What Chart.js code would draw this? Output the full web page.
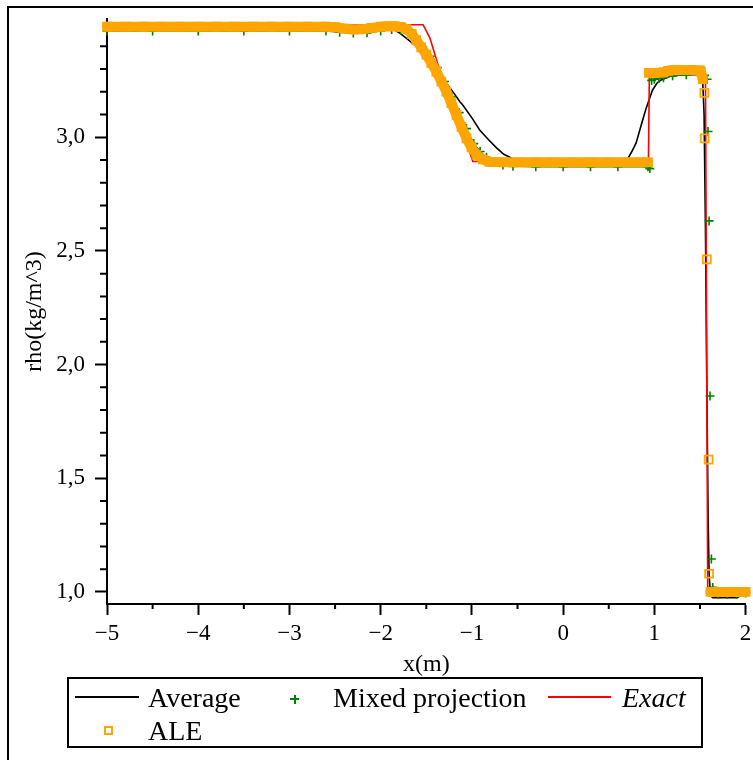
<!DOCTYPE html>
<html>
<head>
<meta charset="utf-8">
<script src="https://cdn.jsdelivr.net/npm/chart.js@4.4.0/dist/chart.umd.min.js"></script>
<style>
html, body { margin: 0; padding: 0; background: #fff; overflow: hidden; }
#wrap { position: relative; width: 753px; height: 760px; overflow: hidden; }
#frame { position: absolute; left: 7px; top: 6px; width: 800px; height: 800px; border: 2px solid #000; box-sizing: border-box; }
#chart { position: absolute; left: 0; top: 0; }
#legend { position: absolute; left: 67px; top: 677px; width: 636px; height: 71px; border: 2px solid #000; box-sizing: border-box;
  font-family: 'Liberation Serif', 'Times New Roman', serif; font-size: 28px; line-height: 27px; color: #000; }
#legend .t { position: absolute; white-space: nowrap; }
#legend .ln { position: absolute; height: 2px; }
</style>
</head>
<body>
<div id="wrap">
  <div id="frame"></div>
  <canvas id="chart" width="753" height="760"></canvas>
  <div id="legend">
    <div class="ln" style="left:6px;top:17px;width:64px;background:#000"></div>
    <div class="t" style="left:79px;top:5px">Average</div>
    <div class="ln" style="left:221px;top:19px;width:9px;background:#008000"></div>
    <div class="ln" style="left:224.5px;top:15.5px;width:2px;height:9px;background:#008000"></div>
    <div class="t" style="left:264px;top:5px">Mixed projection</div>
    <div class="ln" style="left:479px;top:17px;width:63px;background:#ff0000"></div>
    <div class="t" style="left:553px;top:5px;font-style:italic">Exact</div>
    <div style="position:absolute;left:34.5px;top:46.5px;width:9px;height:9px;border:2px solid #ffa500;box-sizing:border-box"></div>
    <div class="t" style="left:79px;top:38px">ALE</div>
  </div>
</div>
<script>
// Axes
const xTicks = [-5, -4, -3, -2, -1, 0, 1, 2];
const xMinor = [-4.5, -3.5, -2.5, -1.5, -0.5, 0.5, 1.5];
const yTicks = [1.0, 1.5, 2.0, 2.5, 3.0];
const yMinor = [1.1, 1.2, 1.3, 1.4, 1.6, 1.7, 1.8, 1.9, 2.1, 2.2, 2.3, 2.4, 2.6, 2.7, 2.8, 2.9, 3.1, 3.2, 3.3, 3.4];

// Average
const avgX = [-5, -2.6, -2.45, -2.3, -2.15, -2.0, -1.88, -1.79, -1.72, -1.61, -1.575, -1.5, -1.4, -1.3, -1.2, -1.13,
  -1.1, -1.0, -0.915, -0.82, -0.73, -0.65, -0.59, -0.55, -0.45, -0.3, 0.6, 0.66, 0.707, 0.75, 0.8, 0.856, 0.91, 0.98,
  1.03, 1.075, 1.165, 1.3, 1.45, 1.5, 1.53, 1.545, 1.56, 1.575, 1.59, 1.6, 1.615, 1.64, 1.91, 1.96, 2.0];
const avgY = [3.484, 3.484, 3.48, 3.474, 3.474, 3.48, 3.478, 3.458, 3.436, 3.40, 3.385, 3.35, 3.30, 3.25, 3.195, 3.155,
  3.142, 3.085, 3.032, 2.99, 2.953, 2.925, 2.913, 2.904, 2.895, 2.892, 2.892, 2.896, 2.905, 2.935, 2.975, 3.054, 3.128, 3.208,
  3.238, 3.252, 3.267, 3.275, 3.275, 3.27, 3.245, 3.1, 2.6, 1.9, 1.3, 1.08, 0.985, 0.975, 0.975, 0.99, 1.0];

// Mixed projection
const mixX = [-5.0, -4.5, -4.0, -3.5, -3.0, -2.6, -2.45, -2.3, -2.15, -2.0, -1.88, -1.78, -1.7, -1.62, -1.54, -1.46,
  -1.38, -1.3, -1.22, -1.14, -1.06, -0.98, -0.91, -0.84, -0.76, -0.66, -0.55, -0.3, 0.0, 0.3, 0.6, 0.93, 0.95, 0.97,
  1.0, 1.05, 1.1, 1.2, 1.35, 1.5, 1.55, 1.578, 1.588, 1.6, 1.61, 1.625, 1.64, 1.7, 1.8, 1.9, 2.0];
const mixY = [3.467, 3.467, 3.467, 3.467, 3.467, 3.467, 3.462, 3.458, 3.459, 3.467, 3.474, 3.47, 3.456, 3.432, 3.398, 3.356,
  3.306, 3.245, 3.178, 3.108, 3.038, 2.972, 2.937, 2.912, 2.893, 2.878, 2.872, 2.87, 2.87, 2.87, 2.87, 2.87, 2.862, 3.25,
  3.255, 3.258, 3.262, 3.27, 3.275, 3.278, 3.272, 3.255, 3.025, 2.632, 1.862, 1.145, 1.02, 0.99, 0.99, 0.99, 0.995];

// Exact
const exactX = [-5, -1.535, -1.46, -1.32, -1.19, -1.06, -0.99, 0.935, 0.945, 1.56, 1.585, 2.0];
const exactY = [3.495, 3.495, 3.436, 3.25, 3.10, 2.975, 2.893, 2.893, 3.28, 3.28, 1.0, 1.0];

// ALE
const aleX = [-5.0, -4.8, -4.6, -4.4, -4.2, -4.0, -3.8, -3.6, -3.4, -3.2, -3.0, -2.8, -2.6, -2.5, -2.4, -2.3, -2.2, -2.1,
  -2.0, -1.92, -1.85, -1.78, -1.72, -1.66, -1.61, -1.555, -1.5, -1.445, -1.39, -1.335, -1.28, -1.225, -1.17, -1.115,
  -1.06, -1.005, -0.95, -0.88, -0.81, -0.7, -0.5, -0.3, -0.1, 0.1, 0.3, 0.5, 0.7, 0.85, 0.93, 0.94, 1.0, 1.1, 1.15,
  1.2, 1.3, 1.4, 1.5, 1.51, 1.53, 1.548, 1.552, 1.575, 1.595, 1.6, 1.615, 1.7, 1.8, 1.9, 2.0];
const aleY = [3.486, 3.486, 3.486, 3.486, 3.486, 3.486, 3.486, 3.486, 3.486, 3.486, 3.486, 3.486, 3.486, 3.484, 3.478, 3.474, 3.475, 3.481,
  3.486, 3.488, 3.488, 3.485, 3.476, 3.455, 3.427, 3.395, 3.363, 3.327, 3.289, 3.245, 3.201, 3.15, 3.098, 3.046,
  2.995, 2.955, 2.922, 2.902, 2.892, 2.89, 2.89, 2.89, 2.89, 2.89, 2.89, 2.89, 2.89, 2.89, 2.89, 3.283, 3.283, 3.285, 3.292,
  3.295, 3.296, 3.296, 3.294, 3.288, 3.255, 3.195, 2.995, 2.463, 1.582, 1.08, 1.0, 1.0, 1.0, 1.0, 1.0];

const ORANGE = '#ffa500';
const GREEN = '#008000';
const FONT = "'Liberation Serif', 'Times New Roman', serif";

const pts = (xs, ys) => xs.map((x, i) => ({ x: x, y: ys[i] }));

// hide connecting segments across the jumps, where the reference shows separate markers only
const steep = c => {
    const a = c.p0.parsed, b = c.p1.parsed;
    const dy = b.y - a.y;
    return Math.abs(dy) > 0.03 && Math.abs(dy / (b.x - a.x)) > 3 ? 'rgba(0,0,0,0)' : undefined;
};

const minorTicks = {
    id: 'minorTicks',
    afterDraw(chart) {
        const { ctx, scales: { x, y } } = chart;
        ctx.save();
        ctx.strokeStyle = '#000';
        ctx.lineWidth = 2;
        ctx.beginPath();
        xMinor.forEach(v => {
            const px = x.getPixelForValue(v);
            ctx.moveTo(px, x.top);
            ctx.lineTo(px, x.top + 5);
        });
        yMinor.forEach(v => {
            const py = y.getPixelForValue(v);
            ctx.moveTo(y.right, py);
            ctx.lineTo(y.right - 7, py);
        });
        ctx.stroke();
        ctx.restore();
    }
};

new Chart(document.getElementById('chart').getContext('2d'), {
    type: 'scatter',
    data: {
        datasets: [
            {
                label: 'ALE', data: pts(aleX, aleY), order: 0, clip: false,
                showLine: true, borderColor: ORANGE, borderWidth: 10, borderCapStyle: 'round', borderJoinStyle: 'round',
                segment: { borderColor: steep },
                pointStyle: 'rect', pointRadius: 5.6, pointBorderWidth: 1.8,
                pointBorderColor: ORANGE, pointBackgroundColor: 'rgba(0,0,0,0)'
            },
            {
                label: 'Mixed projection', data: pts(mixX, mixY), order: 1, clip: false,
                showLine: true, borderColor: GREEN, borderWidth: 1.5,
                segment: { borderColor: steep },
                pointStyle: 'cross', pointRadius: 4.5, pointBorderWidth: 1.6, pointBorderColor: GREEN
            },
            {
                label: 'Exact', data: pts(exactX, exactY), order: 2, clip: false,
                showLine: true, borderColor: '#ff0000', borderWidth: 1.6, pointRadius: 0
            },
            {
                label: 'Average', data: pts(avgX, avgY), order: 3, clip: false,
                showLine: true, borderColor: '#000', borderWidth: 1.6, pointRadius: 0
            }
        ]
    },
    options: {
        responsive: false,
        animation: false,
        devicePixelRatio: 1,
        events: [],
        layout: { padding: { left: 0, top: 19, right: 6, bottom: 76 } },
        plugins: { legend: { display: false }, tooltip: { enabled: false } },
        scales: {
            x: {
                type: 'linear', min: -5, max: 2,
                afterBuildTicks: s => { s.ticks = xTicks.map(v => ({ value: v })); },
                afterFit: s => { s.height = 80; s.paddingLeft = 0; s.paddingRight = 0; },
                grid: { drawOnChartArea: false, drawTicks: true, tickLength: 11, tickWidth: 2, tickColor: '#000' },
                border: { display: true, color: '#000', width: 2 },
                ticks: {
                    autoSkip: false, maxRotation: 0, padding: 5, color: '#000',
                    font: { family: FONT, size: 23 },
                    callback: v => v < 0 ? '\u2212' + Math.abs(v) : String(v)
                },
                title: { display: true, text: 'x(m)', color: '#000', font: { family: FONT, size: 24 }, padding: { top: 0, bottom: 5 } }
            },
            y: {
                type: 'linear', min: 0.947, max: 3.52,
                afterBuildTicks: s => { s.ticks = yTicks.map(v => ({ value: v })); },
                afterFit: s => { s.width = 107; s.paddingTop = 0; s.paddingBottom = 0; },
                grid: { drawOnChartArea: false, drawTicks: true, tickLength: 12, tickWidth: 2, tickColor: '#000' },
                border: { display: true, color: '#000', width: 2 },
                ticks: {
                    autoSkip: false, padding: 10, color: '#000',
                    font: { family: FONT, size: 23 },
                    callback: v => v.toFixed(1).replace('.', ',')
                },
                title: { display: true, text: 'rho(kg/m^3)', color: '#000', font: { family: FONT, size: 24 }, padding: { top: 20, bottom: 0 } }
            }
        }
    },
    plugins: [minorTicks]
});
</script>
</body>
</html>
